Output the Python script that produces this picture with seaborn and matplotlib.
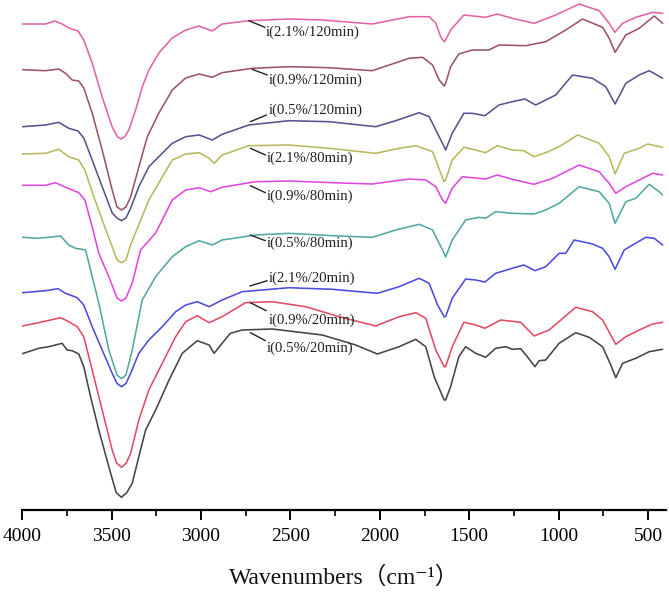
import numpy as np
import pandas as pd
import matplotlib
matplotlib.use("Agg")
import matplotlib.pyplot as plt
import seaborn as sns
from matplotlib.ticker import MultipleLocator

# ---- data (wavenumber, offset transmittance) ----
labels = ["i(2.1%/120min)", "i(0.9%/120min)", "i(0.5%/120min)",
          "i(2.1%/80min)", "i(0.9%/80min)", "i(0.5%/80min)",
          "i(2.1%/20min)", "i(0.9%/20min)", "i(0.5%/20min)"]
colors = ["#e264a6", "#9c5468", "#55558f", "#b8b860", "#e048dc",
          "#52a8a2", "#4c4ce0", "#e04c64", "#454545"]

wn_1 = [4000, 3870, 3818, 3777, 3740, 3688, 3656, 3609, 3553, 3497, 3469, 3448, 3426, 3404, 3366, 3329, 3292, 3236, 3161, 3086, 3011, 2937, 2882, 2733, 2509, 2322, 2042, 1836, 1724, 1687, 1659, 1640, 1632, 1604, 1530, 1408, 1343, 1259, 1137, 1016, 885, 773, 717, 685, 642, 568, 474, 418]
t_1 = [496, 496, 499, 496, 492, 489, 480, 457, 423, 393, 383.5, 381, 383.5, 390, 410, 433, 450, 467, 482, 490, 494, 489, 496, 499.3, 501, 500, 496, 503.3, 503.3, 497, 483, 478.3, 480, 490, 505, 502.7, 506, 501.7, 496.7, 505, 516, 509.3, 496.7, 487.7, 496.7, 502.7, 507.7, 506.7]

wn_2 = [4000, 3870, 3796, 3758, 3721, 3684, 3656, 3609, 3553, 3497, 3470, 3445, 3420, 3394, 3348, 3301, 3236, 3161, 3086, 3011, 2937, 2882, 2714, 2509, 2284, 2042, 1836, 1761, 1705, 1668, 1640, 1632, 1604, 1558, 1483, 1390, 1334, 1184, 1072, 960, 866, 754, 717, 684, 624, 549, 465, 418]
t_2 = [450.3, 449.3, 451, 446.7, 440, 439, 432, 407, 370, 330, 313, 310, 313, 323, 353, 383, 407, 430, 442, 446, 442.7, 447.3, 451.7, 453.3, 452.3, 449.3, 461.7, 462.7, 455, 440, 434, 436.7, 453.3, 466, 470, 470, 475, 474.3, 478.3, 490, 501, 492.7, 481.7, 467.7, 485, 491.7, 504, 496.7]

wn_3 = [4000, 3870, 3796, 3740, 3688, 3656, 3609, 3553, 3497, 3470, 3445, 3420, 3394, 3348, 3292, 3236, 3161, 3086, 3011, 2937, 2882, 2733, 2509, 2284, 2023, 1911, 1780, 1724, 1668, 1640, 1632, 1595, 1530, 1483, 1412, 1334, 1259, 1188, 1128, 1072, 1016, 922, 810, 736, 684, 624, 549, 493, 418]
t_3 = [393.3, 395, 397.7, 391.7, 389, 382, 360, 333.3, 307, 302, 299.3, 302, 311.7, 333.3, 353.3, 363.3, 376.7, 383.3, 385, 380, 385.7, 395, 399.3, 398.3, 393.3, 399.3, 407.3, 403.3, 383.3, 373.3, 370, 386.7, 406.7, 406.7, 404.3, 415, 418.3, 421, 415, 420, 425, 445, 441.7, 433.3, 416, 436.7, 445, 449.3, 441.7]

wn_4 = [4000, 3870, 3796, 3740, 3684, 3650, 3600, 3553, 3497, 3470, 3445, 3420, 3394, 3292, 3161, 3086, 3011, 2955, 2927, 2882, 2733, 2509, 2284, 2023, 1911, 1799, 1705, 1659, 1640, 1632, 1595, 1530, 1464, 1408, 1343, 1259, 1194, 1137, 1072, 997, 894, 773, 717, 684, 633, 549, 502, 418]
t_4 = [366, 366.7, 370.7, 363.3, 360, 350, 323.3, 300, 273.3, 260, 257.3, 260, 275, 320, 360, 366, 367.3, 361.7, 356.7, 365, 374.3, 375, 371.7, 366.7, 371, 374.3, 368.3, 346.7, 338.3, 340, 360, 372.7, 370, 367.3, 374.3, 370, 369.3, 363.3, 367.3, 373.3, 385, 376.7, 363.3, 346, 366.7, 371.7, 376, 372.7]

wn_5 = [4000, 3870, 3814, 3758, 3684, 3650, 3609, 3572, 3516, 3470, 3445, 3420, 3385, 3338, 3254, 3161, 3086, 3011, 2946, 2882, 2696, 2509, 2266, 2042, 1836, 1743, 1687, 1649, 1632, 1595, 1539, 1408, 1343, 1259, 1137, 1034, 885, 773, 717, 680, 624, 549, 474, 418]
t_5 = [334.7, 334.7, 337.3, 332.7, 327.3, 320, 293.3, 266.7, 243.3, 222, 219, 222, 237, 270, 287, 320, 330, 332.3, 328.3, 332.7, 338.3, 339, 337.3, 336, 341, 340, 333.3, 320, 316.7, 331.7, 343.3, 341, 345, 340.7, 335.7, 341.7, 355, 348.3, 336.7, 326.7, 333.3, 340, 346.7, 345]

wn_6 = [4000, 3908, 3786, 3740, 3702, 3665, 3646, 3572, 3516, 3470, 3445, 3420, 3385, 3329, 3254, 3161, 3086, 3011, 2937, 2882, 2696, 2509, 2266, 2042, 1911, 1780, 1705, 1668, 1640, 1632, 1595, 1520, 1446, 1408, 1352, 1259, 1137, 1072, 997, 885, 773, 717, 684, 624, 568, 493, 437, 418]
t_6 = [282.7, 281.7, 284, 275, 271.7, 270.7, 270, 217, 170, 145, 141.3, 145, 170, 220, 243.3, 263.3, 273.3, 279.3, 275, 280, 285, 286.7, 284.3, 282.7, 290, 295.7, 290, 276.7, 266.7, 263, 280, 300, 302.7, 301.7, 308.3, 306.7, 306, 310, 316.7, 333.3, 328.3, 316.7, 296.7, 318.3, 321.7, 335.7, 328.3, 325]

wn_7 = [4000, 3870, 3800, 3758, 3693, 3656, 3609, 3553, 3497, 3470, 3445, 3420, 3394, 3348, 3292, 3217, 3142, 3086, 3021, 2955, 2882, 2770, 2509, 2266, 2014, 1892, 1780, 1724, 1677, 1640, 1632, 1595, 1520, 1464, 1412, 1352, 1259, 1194, 1132, 1072, 997, 960, 913, 810, 754, 717, 684, 633, 586, 512, 465, 418]
t_7 = [227.3, 229.3, 231.3, 226.7, 222.3, 215, 193.3, 170, 146.7, 136.5, 133.3, 136.5, 146.7, 166.7, 180, 193.3, 208.3, 215, 218.3, 213.3, 220, 228.3, 232.3, 230.7, 226.7, 233.3, 241.7, 236.7, 215, 203.3, 203.3, 221.7, 241, 240, 238, 246.7, 251.7, 255, 249.3, 253.3, 266.7, 266.7, 280, 276, 271.7, 263.3, 250.7, 270, 275, 282.7, 281.7, 275]

wn_8 = [4000, 3908, 3786, 3740, 3693, 3656, 3609, 3553, 3497, 3472, 3445, 3418, 3394, 3348, 3292, 3217, 3142, 3086, 3021, 2955, 2882, 2752, 2602, 2415, 2228, 2023, 1892, 1799, 1743, 1687, 1640, 1632, 1595, 1530, 1464, 1412, 1324, 1212, 1137, 1053, 904, 810, 754, 680, 624, 549, 474, 418]
t_8 = [194, 197.3, 202.3, 198.3, 193.3, 183.3, 150, 110, 70, 57, 52.7, 57, 66.7, 100, 130, 156.7, 183.3, 198.3, 204.3, 197.3, 203.3, 217.3, 218.3, 213.3, 203.3, 194, 203.3, 207.3, 201.7, 170, 153.3, 153.3, 173.3, 197.7, 195, 191.7, 200, 197.7, 184, 190, 212.7, 208.3, 200, 175.7, 183.3, 190, 196, 197.7]

wn_9 = [4000, 3908, 3852, 3777, 3749, 3721, 3684, 3656, 3618, 3572, 3516, 3475, 3445, 3415, 3385, 3348, 3310, 3254, 3179, 3105, 3021, 2955, 2927, 2882, 2836, 2770, 2602, 2322, 2135, 2014, 1892, 1799, 1743, 1696, 1640, 1632, 1604, 1558, 1520, 1464, 1408, 1352, 1296, 1259, 1212, 1175, 1132, 1109, 1072, 997, 904, 829, 754, 708, 680, 642, 568, 493, 418]
t_9 = [166.3, 171.7, 173.3, 176.7, 170, 169.3, 166, 153.3, 123.3, 90, 53.3, 27.5, 22.7, 27.5, 36.7, 63.3, 90, 110, 140, 166.7, 179.3, 175, 166.7, 176.7, 186.7, 190, 191, 185, 175, 166, 173.3, 180.7, 173.3, 143.3, 120, 120, 133.3, 163.3, 173.3, 166.7, 162.7, 171.7, 173.3, 170.7, 171.3, 163.3, 153.3, 159.3, 160, 176.7, 187.3, 182.7, 173.3, 155, 142.3, 156.7, 161.7, 168.3, 170.7]

wns = [wn_1, wn_2, wn_3, wn_4, wn_5, wn_6, wn_7, wn_8, wn_9]
ts = [t_1, t_2, t_3, t_4, t_5, t_6, t_7, t_8, t_9]

# label placement: (leader start, leader end, text anchor)
label_pos = [
    ((2733, 499.3), (2643, 492.7), (2640, 487.7)),
    ((2714, 450.7), (2630, 445.0), (2620, 440.0)),
    ((2724, 398.3), (2634, 405.0), (2620, 410.0)),
    ((2724, 371.7), (2640, 365.0), (2630, 361.7)),
    ((2724, 334.3), (2640, 327.3), (2630, 323.3)),
    ((2724, 285.0), (2640, 279.3), (2630, 276.7)),
    ((2727, 234.0), (2630, 239.3), (2620, 241.7)),
    ((2724, 217.3), (2636, 209.3), (2620, 200.0)),
    ((2724, 187.3), (2640, 179.3), (2630, 171.7)),
]

df = pd.concat([pd.DataFrame({"wavenumber": w, "T": t, "sample": lab})
                for w, t, lab in zip(wns, ts, labels)], ignore_index=True)

sns.set_theme(style="white")
plt.rcParams["font.family"] = ["Liberation Serif", "Noto Sans CJK SC", "DejaVu Sans"]

fig = plt.figure(figsize=(6.69, 5.96), dpi=100)
ax = fig.add_axes([0.0333, 0.1443, 0.962, 0.8557])

sns.lineplot(data=df, x="wavenumber", y="T", hue="sample", hue_order=labels,
             palette=colors, estimator=None, sort=False, linewidth=1.15,
             legend=False, ax=ax)

for (s, e, tp), lab in zip(label_pos, labels):
    ax.plot([s[0], e[0]], [s[1], e[1]], color="#222222", linewidth=1.0)
    ax.text(tp[0], tp[1], lab, ha="left", va="center", fontsize=10.6,
            color="#222222")

ax.set_xlim(4000, 400)
ax.set_ylim(10, 520)
ax.set_yticks([])
for side in ["left", "top", "right"]:
    ax.spines[side].set_visible(False)
ax.spines["bottom"].set_color("black")
ax.spines["bottom"].set_linewidth(1.6)
ax.xaxis.set_major_locator(MultipleLocator(500))
ax.xaxis.set_minor_locator(MultipleLocator(250))
ax.tick_params(axis="x", which="major", direction="out", length=7, width=1.4,
               colors="black", labelsize=14, bottom=True, pad=6)
ax.tick_params(axis="x", which="minor", direction="out", length=4, width=1.2,
               colors="black", bottom=True)
ax.set_xlabel("Wavenumbers（cm⁻¹）", fontsize=17, labelpad=15, color="#111111")
ax.set_ylabel("")

fig.savefig("out.png", dpi=100)
